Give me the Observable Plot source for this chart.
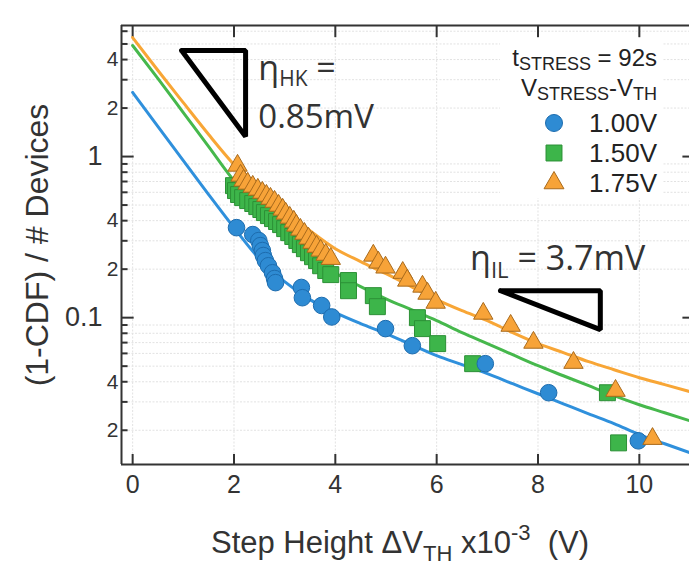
<!DOCTYPE html>
<html><head><meta charset="utf-8">
<script src="https://cdn.jsdelivr.net/npm/d3@7"></script>
<script src="https://cdn.jsdelivr.net/npm/@observablehq/plot@0.6"></script>
<style>body{margin:0;background:#fff;overflow:hidden}</style>
</head><body><div id="chart"></div>
<script>
// ---- data ----
const blueX = [2.05,2.37,2.49,2.52,2.56,2.58,2.62,2.68,2.76,2.80,2.82,3.33,3.35,3.73,3.93,4.99,5.52,6.96,8.21,9.98];
const blueY = [0.362,0.328,0.301,0.280,0.261,0.243,0.226,0.210,0.190,0.175,0.165,0.154,0.133,0.119,0.101,0.0855,0.067,0.0518,0.0342,0.0172];

const greenX = [1.99,2.03,2.09,2.17,2.27,2.37,2.45,2.53,2.60,2.68,2.76,2.84,2.92,3.00,3.08,3.16,3.24,3.31,3.39,3.47,3.55,3.63,3.71,3.81,3.91,4.26,4.26,4.75,4.83,5.62,5.72,6.02,6.71,9.37,9.59];
const greenY = [0.660,0.615,0.581,0.556,0.533,0.511,0.489,0.469,0.449,0.430,0.412,0.395,0.378,0.357,0.337,0.319,0.301,0.284,0.268,0.253,0.239,0.226,0.210,0.196,0.185,0.170,0.147,0.137,0.117,0.100,0.0855,0.069,0.0518,0.0342,0.0167];

const orangeX = [2.07,2.13,2.19,2.27,2.37,2.47,2.56,2.64,2.72,2.80,2.88,2.96,3.02,3.10,3.18,3.23,3.31,3.39,3.47,3.55,3.63,3.71,3.81,3.91,4.75,4.85,4.99,5.33,5.42,5.72,5.82,5.98,6.92,7.46,7.91,8.70,9.53,10.26];
const orangeY = [0.879,0.762,0.710,0.680,0.651,0.624,0.597,0.572,0.548,0.525,0.496,0.469,0.443,0.418,0.395,0.373,0.352,0.332,0.310,0.292,0.276,0.261,0.246,0.232,0.243,0.220,0.205,0.190,0.170,0.156,0.141,0.124,0.106,0.0892,0.070,0.0525,0.0352,0.0177];

const fitX = [0,0.5,1,1.5,2,2.5,3,3.5,4,4.5,5,5.5,6,6.5,7,7.5,8,8.5,9,9.5,10,10.5,11];
const blueFit = [2.50,1.535,0.944,0.581,0.362,0.232,0.1675,0.1294,0.1074,0.0918,0.0796,0.0680,0.0581,0.0511,0.0449,0.0389,0.0337,0.0292,0.0253,0.0220,0.0188,0.0165,0.0145];
const greenFit = [4.89,3.05,1.876,1.154,0.709,0.489,0.352,0.257,0.190,0.156,0.131,0.112,0.0958,0.0807,0.0690,0.0589,0.0503,0.0436,0.0378,0.0328,0.0288,0.0257,0.0229];
const orangeFit = [5.48,3.42,2.16,1.370,0.892,0.624,0.462,0.347,0.268,0.223,0.1876,0.156,0.1294,0.1105,0.0958,0.0807,0.0690,0.0607,0.0533,0.0475,0.0424,0.0384,0.0347];

// slope-marker annotations (data coordinates)
const hkTriX = [0.966,2.229,2.229,0.966];
const hkTriY = [4.55,4.55,1.331,4.55];
const ilTriX = [7.26,9.23,9.23,7.26];
const ilTriY = [0.147,0.147,0.0842,0.147];

// ticks
const xTicks = [0,2,4,6,8,10];
const yMajor = [0.1,1];
const yLabeled = [0.02,0.04,0.2,0.4,2,4];
const yGrid = [0.02,0.03,0.04,0.05,0.06,0.07,0.08,0.09,0.2,0.3,0.4,0.5,0.6,0.7,0.8,0.9,2,3,4,5,6];
const legendLabels = ["1.00V","1.50V","1.75V"];

// colours
const cBlue = "#2e8bd3", cGreen = "#3db54a", cOrange = "#f7a338";
const lBlue = "#2f90dc", lGreen = "#46b84c", lOrange = "#f8a636";

const X0 = -0.22, X1 = 10.99, Y0 = 0.01226, Y1 = 6.51;
const axisCol = "#333";
const gridStyle = {stroke: "#e2e2e2", strokeOpacity: 1, strokeWidth: 1, strokeDasharray: "2,1.5"};

const plot = Plot.plot({
  width: 689, height: 570,
  marginLeft: 121, marginRight: 0, marginTop: 25, marginBottom: 106,
  style: {fontFamily: "'Liberation Sans', Arial, sans-serif", color: axisCol, background: "#fff"},
  x: {domain: [X0, X1]},
  y: {type: "log", domain: [Y0, Y1]},
  marks: [
    Plot.gridX(xTicks, gridStyle),
    Plot.gridY(yGrid, gridStyle),
    Plot.axisX(xTicks, {tickSize: 0, tickPadding: 11, fontSize: 25, label: null, tickFormat: d => String(d)}),
    Plot.axisY(yLabeled, {tickSize: 0, tickPadding: 3, fontSize: 21, label: null,
      tickFormat: d => String(Math.round(d / Math.pow(10, Math.floor(Math.log10(d) + 1e-9))))}),
    Plot.axisY(yMajor, {tickSize: 0, tickPadding: 19, fontSize: 27, label: null, tickFormat: d => String(d)}),
    // frame
    Plot.ruleX([X0], {stroke: axisCol, strokeWidth: 2}),
    Plot.ruleY([Y0, Y1], {stroke: axisCol, strokeWidth: 2}),
    // inward ticks
    Plot.ruleX(xTicks, {y1: Y0, y2: Y0 * 1.154, stroke: axisCol, strokeWidth: 2}),
    Plot.ruleX(xTicks, {y1: Y1 / 1.19, y2: Y1, stroke: axisCol, strokeWidth: 2}),
    Plot.ruleY(yGrid, {x1: X0, x2: X0 + 0.13, stroke: axisCol, strokeWidth: 2}),
    Plot.ruleY(yMajor, {x1: X0, x2: X0 + 0.25, stroke: axisCol, strokeWidth: 2}),
    Plot.ruleY(yMajor, {x1: X1 - 0.13, x2: X1, stroke: axisCol, strokeWidth: 2}),
    // fitted curves
    Plot.line(blueFit, {x: fitX, y: blueFit, stroke: lBlue, strokeWidth: 3, curve: "monotone-x", clip: true}),
    Plot.line(greenFit, {x: fitX, y: greenFit, stroke: lGreen, strokeWidth: 3, curve: "monotone-x", clip: true}),
    Plot.line(orangeFit, {x: fitX, y: orangeFit, stroke: lOrange, strokeWidth: 3, curve: "monotone-x", clip: true}),
    // data points
    Plot.dot(greenY, {x: greenX, y: greenY, symbol: "square", r: 9, fill: cGreen, stroke: "#2c9036", strokeWidth: 1}),
    Plot.dot(blueY, {x: blueX, y: blueY, symbol: "circle", r: 8.3, fill: cBlue, stroke: "#1d6cae", strokeWidth: 1}),
    Plot.dot(orangeY, {x: orangeX, y: orangeY, symbol: "triangle", r: 7.2, fill: cOrange, stroke: "#a86a1c", strokeWidth: 1}),
    // slope triangles
    Plot.line(hkTriY, {x: hkTriX, y: hkTriY, stroke: "#000", strokeWidth: 5, strokeLinejoin: "miter"}),
    Plot.line(ilTriY, {x: ilTriX, y: ilTriY, stroke: "#000", strokeWidth: 5, strokeLinejoin: "miter"})
  ]
});
document.getElementById("chart").appendChild(plot);

const svg = d3.select(plot);
const sx = plot.scale("x"), sy = plot.scale("y");

// axis titles
svg.append("text")
  .attr("transform", "translate(48,245) rotate(-90)")
  .attr("text-anchor", "middle").attr("font-size", 32).attr("fill", "#333")
  .attr("font-family", "'Liberation Sans', Arial, sans-serif")
  .text("(1-CDF) / # Devices");

const xt = svg.append("text")
  .attr("x", 400).attr("y", 553).attr("text-anchor", "middle")
  .attr("font-size", 31).attr("fill", "#333")
  .attr("font-family", "'Liberation Sans', Arial, sans-serif");
xt.append("tspan").text("Step Height \u0394V");
xt.append("tspan").attr("font-size", 22).attr("dy", 8).text("TH");
xt.append("tspan").attr("dy", -8).text(" x10");
xt.append("tspan").attr("font-size", 22).attr("dy", -13).text("-3");
xt.append("tspan").attr("dy", 13).text("\u00a0\u00a0(V)");

// annotations
const annFont = "'Open Sans', 'DejaVu Sans', sans-serif";
const hk1 = svg.append("text").attr("x", sx.apply(2.49)).attr("y", sy.apply(2.95))
  .attr("text-anchor", "start")
  .attr("font-size", 34).attr("fill", "#333").attr("font-family", annFont);
hk1.append("tspan").text("\u03b7");
hk1.append("tspan").attr("font-size", 21).attr("dy", 6).text("HK");
hk1.append("tspan").attr("dy", -6).text(" =");
svg.append("text").attr("x", sx.apply(2.49)).attr("y", sy.apply(1.49))
  .attr("text-anchor", "start")
  .attr("font-size", 33).attr("fill", "#333").attr("font-family", annFont).text("0.85mV");

const il = svg.append("text").attr("x", sx.apply(6.67)).attr("y", sy.apply(0.196))
  .attr("text-anchor", "start")
  .attr("font-size", 34).attr("fill", "#333").attr("font-family", annFont);
il.append("tspan").text("\u03b7");
il.append("tspan").attr("font-size", 22).attr("dy", 8).text("IL");
il.append("tspan").attr("dy", -8).text(" = 3.7mV");

// legend
const lg = svg.append("g").attr("font-family", "'Liberation Sans', Arial, sans-serif").attr("fill", "#222");
lg.append("rect").attr("x", 500).attr("y", 38).attr("width", 162).attr("height", 160).attr("fill", "#fff");
const t1 = lg.append("text").attr("x", 657).attr("y", 66).attr("text-anchor", "end").attr("font-size", 24);
t1.append("tspan").text("t");
t1.append("tspan").attr("font-size", 18).attr("dy", 4).text("STRESS");
t1.append("tspan").attr("dy", -4).text(" = 92s");
const t2 = lg.append("text").attr("x", 657).attr("y", 96).attr("text-anchor", "end").attr("font-size", 24);
t2.append("tspan").text("V");
t2.append("tspan").attr("font-size", 18).attr("dy", 4).text("STRESS");
t2.append("tspan").attr("dy", -4).text("-V");
t2.append("tspan").attr("font-size", 18).attr("dy", 4).text("TH");
const symTypes = [d3.symbolCircle, d3.symbolSquare, d3.symbolTriangle];
const symR = [8.5, 9, 7.4];
const symFill = [cBlue, cGreen, cOrange];
const symStroke = ["#1d6cae", "#2c9036", "#a86a1c"];
legendLabels.forEach((lab, i) => {
  const cy = 123 + i * 30;
  lg.append("path").attr("transform", `translate(554,${cy})`)
    .attr("d", d3.symbol(symTypes[i], Math.PI * symR[i] * symR[i])())
    .attr("fill", symFill[i]).attr("stroke", symStroke[i]).attr("stroke-width", 1);
  lg.append("text").attr("x", 657).attr("y", cy + 9).attr("text-anchor", "end").attr("font-size", 26).text(lab);
});
</script>
</body></html>
